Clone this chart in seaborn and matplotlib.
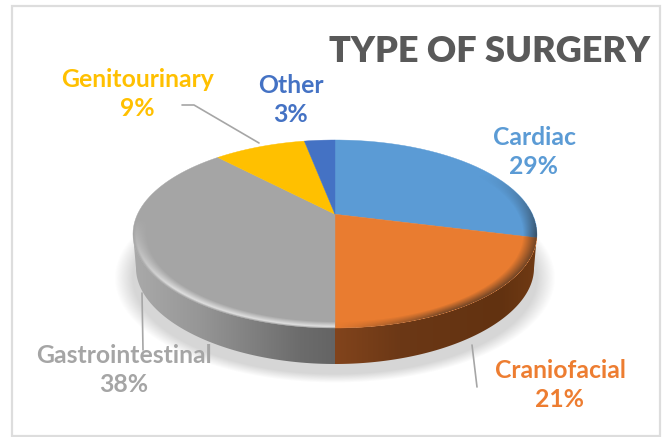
import numpy as np
import seaborn as sns
import matplotlib.pyplot as plt
from matplotlib.patches import Polygon, Rectangle
from matplotlib.transforms import Affine2D

categories = ["Cardiac", "Craniofacial", "Gastrointestinal", "Genitourinary", "Other"]
values = [29, 21, 38, 9, 3]
title = "TYPE OF SURGERY"

colors = sns.color_palette(["#5B9BD5", "#E97C30", "#A5A5A5", "#FFC000", "#4472C4"])
label_colors = ["#5B9BD5", "#ED7D31", "#A5A5A5", "#FFC000", "#4472C4"]
label_pos = [(534, 152), (560, 385), (124, 370), (137, 94), (291, 100)]

# ellipse of the top face in pixels, c = perspective shift of the pie apex
cx, cy, rx, ry, c = 335, 234, 202, 94, 0.21
depth = 38
W, H = 665, 437

sns.set_theme(style="white")
plt.rcParams["font.family"] = ["Lato", "DejaVu Sans"]


def to_px(pts):
    x, y = pts[:, 0], pts[:, 1]
    den = 1 + c * y
    xp = x * np.sqrt(1 - c ** 2) / den
    yp = (y + c) / den
    return np.column_stack([cx + rx * xp, cy - ry * yp])


fig = plt.figure(figsize=(6.65, 4.37), dpi=100)
ax = fig.add_axes([0, 0, 1, 1])
wedges, _ = ax.pie(values, colors=colors, startangle=90, counterclock=False)

# bend the pie wedges into the tilted view
for w, col in zip(wedges, colors):
    poly = w.get_path().to_polygons(Affine2D().scale(400))[0] / 400
    w.remove()
    ax.add_patch(Polygon(to_px(poly), closed=True, fc=col, ec=col, lw=0.3, zorder=5))

xx, yy = np.meshgrid(np.arange(W) + 0.5, np.arange(H) + 0.5)
extent = (0, W, H, 0)
u = (xx - cx) / rx
v = (yy - cy) / ry
rho = np.sqrt(u ** 2 + v ** 2)

# soft shadow under the pie
rho_s = np.sqrt(((xx - cx) / (rx + 4)) ** 2 + ((yy - cy - depth - 6) / (ry + 4)) ** 2)
shadow = np.zeros((H, W, 4))
shadow[..., :3] = 0.6
shadow[..., 3] = np.clip((1.07 - rho_s) / 0.09, 0, 1) * 0.4 * (yy > cy)
ax.imshow(shadow, extent=extent, aspect="auto", zorder=1)

# side wall
t = np.linspace(0, np.pi, 200)
upper = np.column_stack([cx + rx * np.cos(t), cy + ry * np.sin(t)])
lower = np.column_stack([cx + (rx - 3) * np.cos(t[::-1]), cy + depth + (ry - 2) * np.sin(t[::-1]) - 4 * np.cos(t[::-1]) ** 2])
wall_clip = Polygon(np.vstack([upper, lower]), closed=True, fc="none", ec="none", zorder=2)
ax.add_patch(wall_clip)

gx = np.array([133, 200, 300, 335])
gv = np.array([170, 150, 108, 100]) / 255
ox = np.array([335, 400, 500, 537])
o_r = np.array([130, 108, 98, 112]) / 255
o_g = np.array([68, 56, 50, 58]) / 255
o_b = np.array([28, 22, 16, 20]) / 255
wall = np.zeros((H, W, 4))
left = xx < cx
gray_v = np.interp(xx, gx, gv)
wall[..., 0] = np.where(left, gray_v, np.interp(xx, ox, o_r))
wall[..., 1] = np.where(left, gray_v, np.interp(xx, ox, o_g))
wall[..., 2] = np.where(left, gray_v, np.interp(xx, ox, o_b))
wall[..., 3] = 1
im = ax.imshow(wall, extent=extent, aspect="auto", zorder=2)
im.set_clip_path(wall_clip)

# bevel along the rim of the top face
bevel = np.zeros((H, W, 4))
band = np.clip((rho - 0.93) / 0.05, 0, 1) * np.clip((1.0 - rho) / 0.015, 0, 1)
lower_amount = np.clip((yy - cy + 15) / 70, 0, 1)
light = band * lower_amount * 0.6 * (xx < cx)
dark = np.clip((rho - 0.93) / 0.07, 0, 1) * (xx >= cx) * np.clip((yy - cy + 60) / 60, 0, 1)
dark = dark * np.clip((xx - cx) / 110, 0.05, 1) * 0.6
bevel[..., :3] = np.where((xx < cx)[..., None], 1.0, 0.12)
bevel[..., 3] = np.where(xx < cx, light, dark)
bevel[..., 3] *= rho < 1.0
top_clip = Polygon(np.column_stack([cx + rx * np.cos(2 * t), cy + ry * np.sin(2 * t)]),
                   closed=True, fc="none", ec="none", zorder=6)
ax.add_patch(top_clip)
im2 = ax.imshow(bevel, extent=extent, aspect="auto", zorder=6)
im2.set_clip_path(top_clip)

ax.set_xlim(0, W)
ax.set_ylim(H, 0)
ax.set_aspect("auto")
ax.axis("off")

# chart frame
ax.add_patch(Rectangle((12, 6), 648, 430, fc="none", ec="#DDDDDD", lw=1.6, zorder=0))

# leader lines
ax.plot([182, 194, 259], [105, 105, 143], color="#A6A6A6", lw=1.2, zorder=3)
ax.plot([142, 143], [293, 350], color="#A6A6A6", lw=1.2, zorder=3)
ax.plot([472, 477], [345, 387], color="#A6A6A6", lw=1.2, zorder=3)

for name, val, pos, col in zip(categories, values, label_pos, label_colors):
    ax.text(pos[0], pos[1], f"{name}\n{val}%", color=col, fontsize=17.8, fontweight="bold",
            ha="center", va="center", linespacing=1.32, zorder=8)

ax.text(650, 51, title, color="#595959", fontsize=26, fontweight="heavy",
        ha="right", va="center", zorder=8)

fig.savefig("out.png", dpi=100)
